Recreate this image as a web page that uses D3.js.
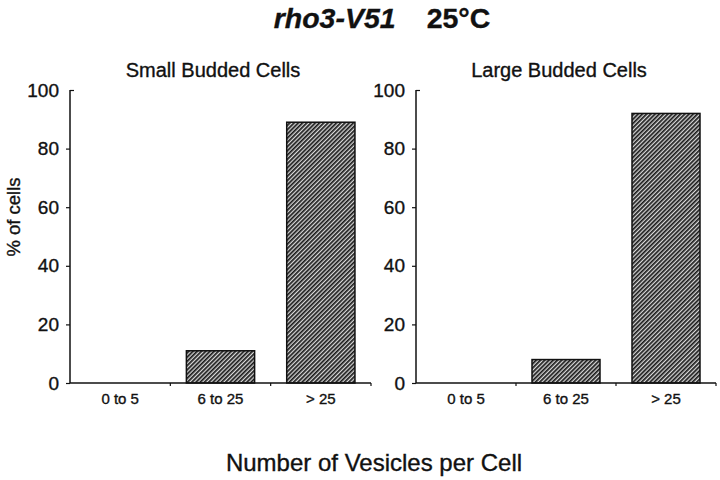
<!DOCTYPE html>
<html><head><meta charset="utf-8">
<script src="https://cdn.jsdelivr.net/npm/d3@7"></script>
<style>body{margin:0;background:#fff}svg{display:block}text{font-family:"Liberation Sans",Arial,sans-serif;fill:#111;stroke:#111;stroke-width:0.35px}</style>
</head><body>
<svg id="c" width="720" height="480"></svg>
<script>
const categories = ["0 to 5", "6 to 25", "> 25"];
const smallBudded = [0, 11, 89];
const largeBudded = [0, 8, 92];
const yTicks = [0, 20, 40, 60, 80, 100];
const panelTitles = ["Small Budded Cells", "Large Budded Cells"];

const svg = d3.select("#c");
const defs = svg.append("defs");
const pat = defs.append("pattern").attr("id","hatch").attr("patternUnits","userSpaceOnUse")
  .attr("width",3).attr("height",3).attr("patternTransform","rotate(45)");
pat.append("rect").attr("width",3).attr("height",3).attr("fill","#d8d8d8");
pat.append("rect").attr("width",1.7).attr("height",3).attr("fill","#1a1a1a");

svg.append("text").attr("x",382).attr("y",28).attr("text-anchor","middle")
  .style("font-size","28.5px").style("font-weight","bold")
  .html('<tspan font-style="italic">rho3-V51</tspan><tspan dx="31">25°C</tspan>');

const y = d3.scaleLinear().domain([0,100]).range([383, 90]);

function panel(x0, x1, values, title){
  const g = svg.append("g");
  const x = d3.scaleBand().domain(categories).range([x0, x1]).paddingInner(0.32).paddingOuter(0.16);
  const xs = d3.scaleBand().domain(categories).range([x0, x1]);
  g.selectAll("rect.bar").data(values).join("rect").attr("class","bar")
    .attr("x",(d,i)=>x(categories[i])).attr("width",x.bandwidth())
    .attr("y",d=>y(d)).attr("height",d=>y(0)-y(d))
    .attr("fill","url(#hatch)").attr("stroke","#111").attr("stroke-width",1.5)
    .style("display",d=>d>0?null:"none");
  const ya = g.append("g").attr("transform",`translate(${x0},0)`)
    .call(d3.axisLeft(y).tickValues(yTicks).tickSize(4).tickPadding(7));
  ya.select(".domain").attr("stroke","#111").attr("stroke-width",1.5).attr("d",`M0,${y(100)}H0V${y(0)}`);
  ya.selectAll(".tick line").attr("stroke","#111").attr("stroke-width",1.2).attr("x2",d=>d===100?4:-4);
  ya.selectAll(".tick text").style("font-size","19px");
  const xa = g.append("g").attr("transform",`translate(0,${y(0)})`)
    .call(d3.axisBottom(xs).tickSize(0).tickPadding(10));
  xa.select(".domain").attr("stroke","#111").attr("stroke-width",1.5).attr("d",`M${x0},0H${x1}`);
  xa.selectAll(".tick text").style("font-size","15px");
  xs.domain().slice(1).concat(["end"]).forEach((c,i)=>{
    const px = c==="end" ? x1 : xs(c);
    g.append("line").attr("x1",px).attr("x2",px).attr("y1",y(0)).attr("y2",y(0)+3)
      .attr("stroke","#111").attr("stroke-width",1.2);
  });
  svg.append("text").attr("x",x0+143).attr("y",77).attr("text-anchor","middle")
    .style("font-size","20px").text(title);
}
panel(70, 371, smallBudded, panelTitles[0]);
panel(416, 716, largeBudded, panelTitles[1]);

svg.append("text").attr("transform","translate(20,217) rotate(-90)").attr("text-anchor","middle")
  .style("font-size","18.5px").text("% of cells");
svg.append("text").attr("x",374).attr("y",471).attr("text-anchor","middle")
  .style("font-size","24px").text("Number of Vesicles per Cell");
</script>
</body></html>
